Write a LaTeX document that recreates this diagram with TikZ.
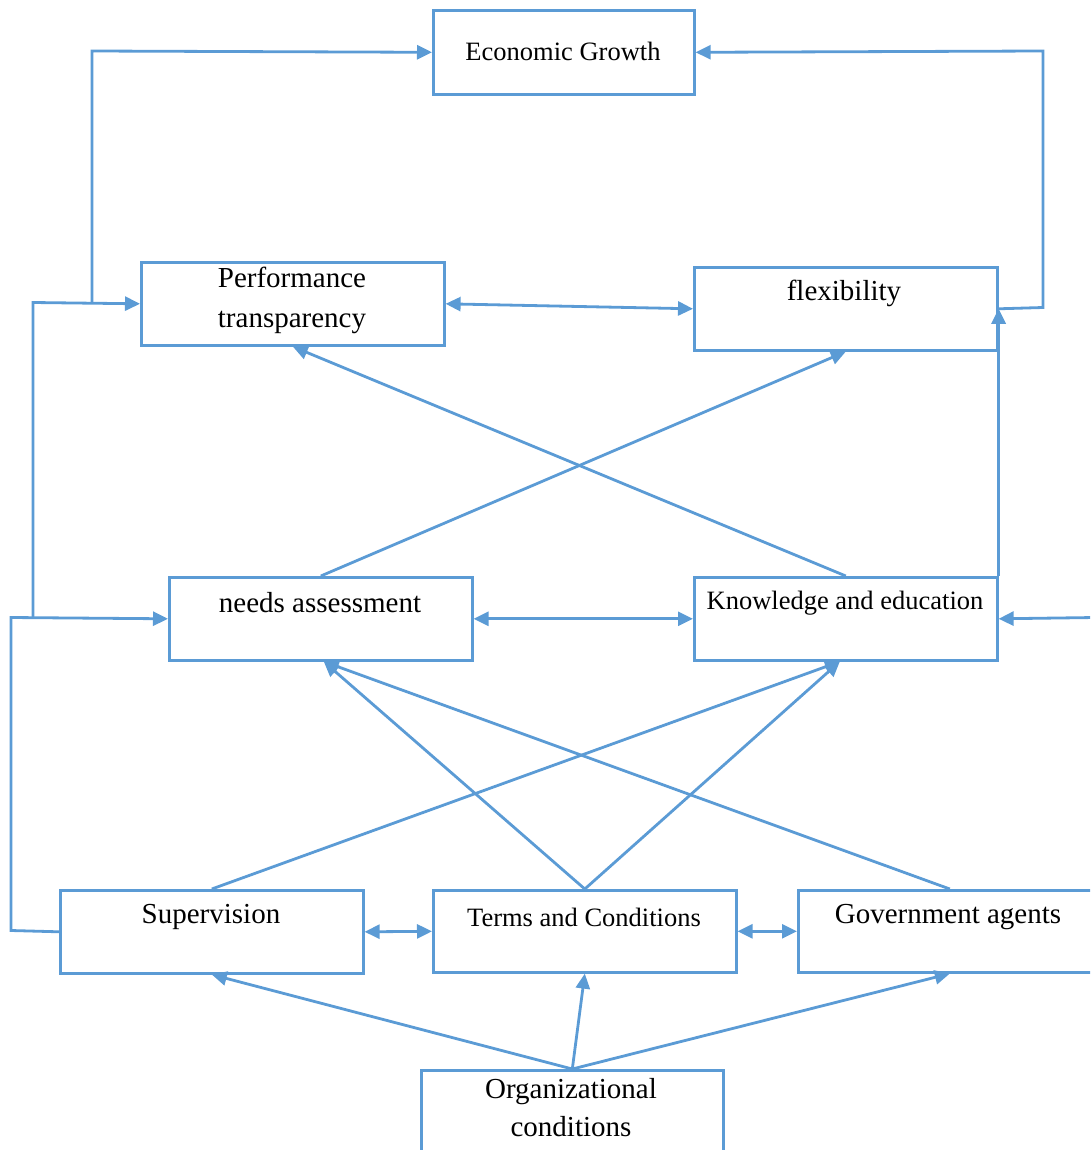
\documentclass[tikz,border=0pt]{standalone}
\usepackage{fontspec}
\setmainfont{Liberation Serif}
\usetikzlibrary{arrows.meta}
\definecolor{lb}{HTML}{5B9BD5}
\begin{document}
\begin{tikzpicture}[x=1pt,y=-1pt, >={Triangle[length=15pt,width=14pt]},
 box/.style={draw=lb, line width=2.6pt, rectangle, anchor=north west, inner sep=0pt},
 conn/.style={draw=lb, line width=2.8pt},
 big/.style={font=\fontsize{29}{40}\selectfont, align=center, inner sep=0pt},
 small/.style={font=\fontsize{26.5}{36}\selectfont, align=center, inner sep=0pt}]
\useasboundingbox (0,0) rectangle (1090,1150);
\clip (0,0) rectangle (1090,1150);
% boxes
\node[box, minimum width=261pt, minimum height=84pt] (eg) at (432,9) {};
\node[box, minimum width=303pt, minimum height=83pt] (pt) at (140,261) {};
\node[box, minimum width=303pt, minimum height=83pt] (fl) at (693,266) {};
\node[box, minimum width=303pt, minimum height=83pt] (na) at (168,576) {};
\node[box, minimum width=303pt, minimum height=83pt] (ke) at (693,576) {};
\node[box, minimum width=303pt, minimum height=83pt] (su) at (59,889) {};
\node[box, minimum width=303pt, minimum height=82pt] (tc) at (432,889) {};
\node[box, minimum width=303pt, minimum height=82pt] (ga) at (797,889) {};
\node[box, minimum width=302pt, minimum height=90pt] (oc) at (420,1069) {};
% texts
\node[small] (teg) at (563,51) {Economic Growth};
\node[big] (tpt) at (292,300) {Performance\\transparency};
\node[big] (tfl) at (844,293) {flexibility};
\node[big] (tna) at (320,603) {needs assessment};
\node[small] (tke) at (845,603) {Knowledge and education};
\node[big] (tsu) at (211,917) {Supervision};
\node[small] (ttc) at (584,917) {Terms and Conditions};
\node[big] (tga) at (948,917) {Government agents};
\node[big, font=\fontsize{29}{38}\selectfont] (toc) at (571,1108) {Organizational\\conditions};
% junction coordinates
\coordinate (c1) at (11,930.5);
\coordinate (c2) at (11,617.5);
\coordinate (c3) at (33,617.5);
\coordinate (c4) at (33,302.5);
\coordinate (c5) at (92,302.5);
\coordinate (c6) at (92,51);
\coordinate (c7) at (1043,307.5);
\coordinate (c8) at (1043,51);
\coordinate (rin) at (1095,617.5);
% connectors
\draw[conn,->] (su.west) -- (c1) -- (c2) -- (na.west);
\draw[conn,->] (c3) -- (c4) -- (pt.west);
\draw[conn,->] (c5) -- (c6) -- (eg.west);
\draw[conn,->] (fl.east) -- (c7) -- (c8) -- (eg.east);
\draw[conn,<->] (pt.east) -- (fl.west);
\draw[conn,->] (ke.north east) -- (fl.east);
\draw[conn,->] (ke.north) -- (pt.south);
\draw[conn,->] (na.north) -- (fl.south);
\draw[conn,<->] (na.east) -- (ke.west);
\draw[conn,->] (rin) -- (ke.east);
\draw[conn,->] (su.north) -- ([xshift=-6pt]ke.south);
\draw[conn,->] (tc.north) -- ([xshift=3pt]na.south);
\draw[conn,->] (tc.north) -- ([xshift=-6pt]ke.south);
\draw[conn,->] (ga.north) -- ([xshift=3pt]na.south);
\draw[conn,<->] (su.east) -- (tc.west);
\draw[conn,<->] (tc.east) -- (ga.west);
\draw[conn,->] (oc.north) -- (su.south);
\draw[conn,->] (oc.north) -- (tc.south);
\draw[conn,->] (oc.north) -- (ga.south);
\end{tikzpicture}
\end{document}
